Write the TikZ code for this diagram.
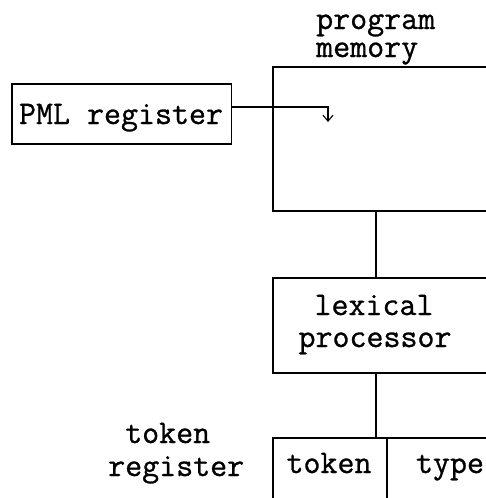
\documentclass[tikz,border=0pt]{standalone}
\usepackage{fontspec}
\newfontfamily\typefont[FakeBold=0.9]{Latin Modern Mono}
\usetikzlibrary{arrows.meta}
\begin{document}
\begin{tikzpicture}[x=1pt,y=-1pt,
  box/.style={draw, line width=1.1pt, rectangle, inner sep=0pt},
  lbl/.style={font=\typefont\fontsize{33}{28}\selectfont, inner sep=0pt, anchor=base},
  link/.style={line width=1.1pt}]
\clip (0,0) rectangle (486,498);
\fill[white] (0,0) rectangle (486,498);

% boxes (memory, processor and register run past the right edge)
\node[box, minimum width=219.5pt, minimum height=60pt] (pml) at (121.75,114) {};
\node[box, minimum width=247pt, minimum height=144pt] (mem) at (396.5,139) {};
\node[box, minimum width=247pt, minimum height=95pt] (lex) at (396.5,325.5) {};
\node[box, minimum width=114pt, minimum height=90pt] (tok) at (330,483) {};
\node[box, minimum width=133pt, minimum height=90pt] (typ) at (453.5,483) {};

% labels
\node[lbl] (tpml) at (121,124) {PML register};
\node[lbl, anchor=base west, align=left] (tmem) at (316,57) {program\\memory};
\node[lbl] (tlex1) at (374,315) {lexical};
\node[lbl] (tlex2) at (375,347) {processor};
\node[lbl, anchor=base west] (ttok1) at (125,443) {token};
\node[lbl, anchor=base west] (ttok2) at (108,476) {register};
\node[lbl] (ttok) at (329,473) {token};
\node[lbl] (ttyp) at (450,473) {type};

% connectors
\coordinate (spine) at (376,0);
\coordinate (drop) at (328,107);
\draw[link] (pml.east |- drop) -- (drop)
  -- ++(0,15) [-{Straight Barb[length=6pt,width=10pt]}];
\draw[link] (mem.south -| spine) -- (lex.north -| spine);
\draw[link] (lex.south -| spine) -- (tok.north -| spine);
\end{tikzpicture}
\end{document}
